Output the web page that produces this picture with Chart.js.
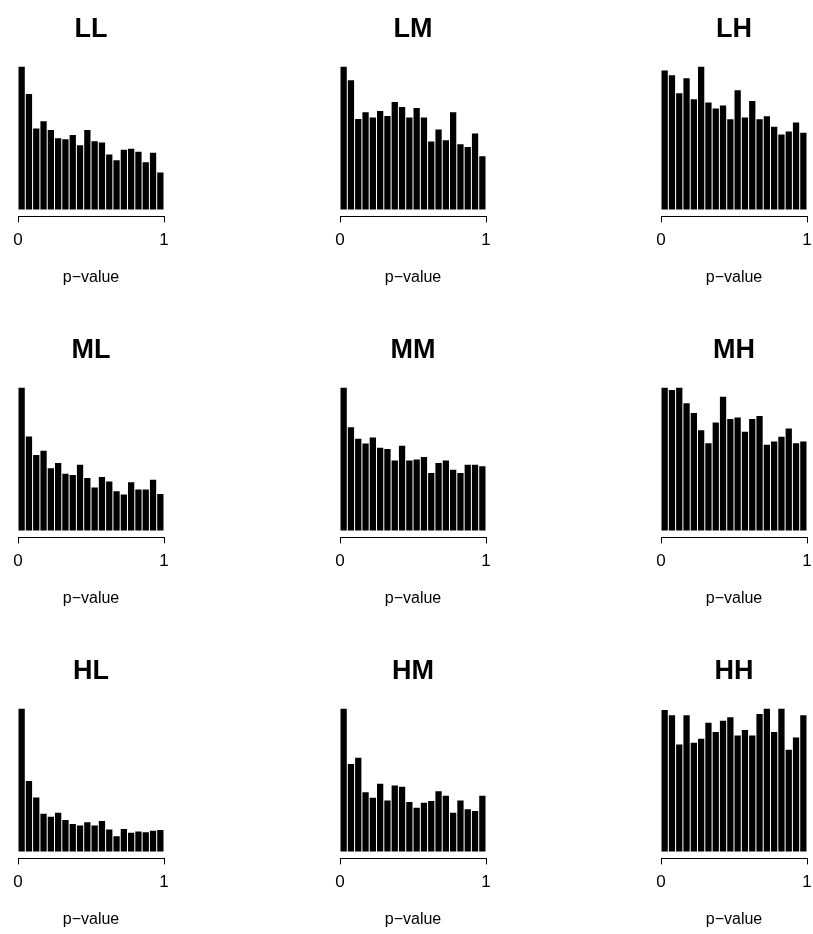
<!DOCTYPE html>
<html>
<head>
<meta charset="utf-8">
<script src="https://cdn.jsdelivr.net/npm/chart.js@4/dist/chart.umd.min.js"></script>
<style>
  html, body { margin: 0; padding: 0; background: #ffffff; overflow: hidden; }
  #wrap { position: relative; width: 813px; height: 934px; }
  .panel { position: absolute; }
</style>
</head>
<body>
<div id="wrap"></div>
<script>
// Histogram bins (midpoints of 20 bins on [0,1])
const binMids = [0.025, 0.075, 0.125, 0.175, 0.225, 0.275, 0.325, 0.375, 0.425, 0.475,
                 0.525, 0.575, 0.625, 0.675, 0.725, 0.775, 0.825, 0.875, 0.925, 0.975];
const xTickValues = [0, 1];
const xTickLabels = ['0', '1'];
const xTitle = 'p\u2212value';

// Panel names
const panelNames = ['LL', 'LM', 'LH', 'ML', 'MM', 'MH', 'HL', 'HM', 'HH'];

// Bar heights (relative frequencies)
const LL = [430, 347, 243, 265, 239, 214, 211, 224, 193, 239, 205, 201, 165, 148, 179, 182, 173, 142, 170, 111];
const LM = [430, 388, 272, 292, 276, 296, 281, 323, 308, 276, 305, 276, 204, 240, 208, 292, 196, 188, 228, 160];
const LH = [419, 404, 350, 395, 332, 431, 322, 304, 313, 272, 359, 277, 327, 272, 281, 249, 226, 235, 262, 231];
const ML = [431, 283, 227, 240, 187, 203, 171, 167, 198, 158, 129, 161, 147, 118, 108, 145, 123, 123, 153, 110];
const MM = [431, 311, 276, 262, 280, 249, 245, 211, 255, 211, 214, 221, 173, 203, 211, 183, 173, 198, 198, 193];
const MH = [431, 423, 431, 383, 354, 302, 263, 325, 403, 336, 340, 297, 336, 345, 258, 268, 282, 307, 263, 268];
const HL = [432, 213, 163, 114, 105, 117, 95, 83, 78, 88, 78, 92, 66, 46, 68, 56, 60, 58, 62, 65];
const HM = [432, 264, 283, 179, 162, 204, 154, 199, 195, 149, 132, 147, 152, 182, 168, 117, 154, 127, 122, 168];
const HH = [427, 411, 323, 411, 328, 340, 389, 361, 395, 405, 350, 367, 350, 415, 432, 361, 432, 307, 344, 411];

const panelValues = [LL, LM, LH, ML, MM, MH, HL, HM, HH];

// Layout
const colLefts = [0, 322, 643];
const rowTops = [0, 321, 642];
const canvasW = 182;
const canvasH = 292;
const FONT = "'Liberation Sans', Arial, Helvetica, sans-serif";

const wrap = document.getElementById('wrap');

panelNames.forEach((name, i) => {
  const r = Math.floor(i / 3), c = i % 3;
  const div = document.createElement('div');
  div.className = 'panel';
  div.style.left = colLefts[c] + 'px';
  div.style.top = rowTops[r] + 'px';
  div.style.width = canvasW + 'px';
  div.style.height = canvasH + 'px';
  const cv = document.createElement('canvas');
  cv.width = canvasW; cv.height = canvasH;
  div.appendChild(cv);
  wrap.appendChild(div);

  const vals = panelValues[i];
  const vmax = Math.max(...vals);
  const data = binMids.map((m, k) => ({ x: m, y: vals[k] }));

  new Chart(cv, {
    type: 'bar',
    data: {
      datasets: [{
        data: data,
        backgroundColor: '#000000',
        borderWidth: 0,
        barPercentage: 1.0,
        categoryPercentage: 0.86
      }]
    },
    options: {
      responsive: false,
      animation: false,
      events: [],
      layout: { padding: { left: 18, right: 18, top: 9, bottom: 1 } },
      plugins: {
        legend: { display: false },
        tooltip: { enabled: false },
        title: {
          display: true,
          text: name,
          color: '#000000',
          font: { family: FONT, size: 27, weight: 'bold' },
          padding: { top: 4, bottom: 21 }
        }
      },
      scales: {
        x: {
          type: 'linear',
          min: 0, max: 1,
          offset: false,
          afterBuildTicks: (axis) => { axis.ticks = xTickValues.map(v => ({ value: v })); },
          ticks: {
            color: '#000000',
            font: { family: FONT, size: 17 },
            padding: 8,
            maxRotation: 0,
            autoSkip: false,
            callback: (v) => xTickLabels[xTickValues.indexOf(v)]
          },
          grid: {
            display: true,
            drawOnChartArea: false,
            drawTicks: true,
            tickLength: 6,
            tickWidth: 1,
            tickColor: '#000000',
            offset: false
          },
          border: { display: true, color: '#000000', width: 1 },
          title: {
            display: true,
            text: xTitle,
            color: '#000000',
            font: { family: FONT, size: 16 },
            padding: { top: 9, bottom: 4 }
          }
        },
        y: {
          display: false,
          min: -vmax * 0.049,
          max: vmax
        }
      }
    }
  });
});
</script>
</body>
</html>
